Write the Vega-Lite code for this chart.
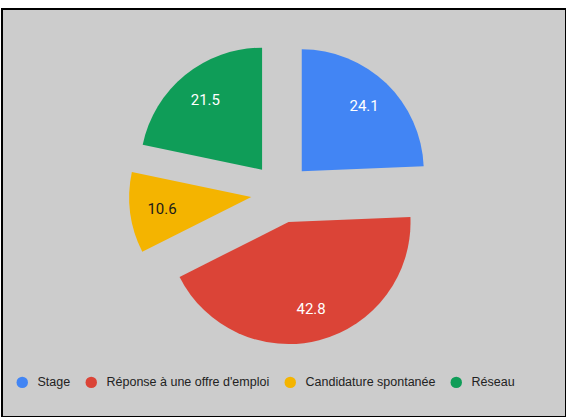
{
  "$schema": "https://vega.github.io/schema/vega-lite/v6.json",
  "width": 566,
  "height": 417,
  "autosize": {"type": "fit", "contains": "padding"},
  "padding": {"left": 2, "top": 9, "right": 0, "bottom": 0},
  "background": "white",
  "view": {"fill": "#cccccc", "stroke": "black", "strokeWidth": 2},
  "config": {
    "font": "Roboto"
  },
  "data": {
    "values": [
      {"cat": "Stage", "value": 24.1, "order": 1},
      {"cat": "Réponse à une offre d'emploi", "value": 42.8, "order": 2},
      {"cat": "Candidature spontanée", "value": 10.6, "order": 3},
      {"cat": "Réseau", "value": 21.5, "order": 4}
    ]
  },
  "encoding": {
    "theta": {"field": "value", "type": "quantitative", "stack": true},
    "order": {"field": "order", "type": "quantitative"}
  },
  "layer": [
    {
      "mark": {
        "type": "arc",
        "outerRadius": 122,
        "x": {"expr": "width/2-3"},
        "y": {"expr": "height/2-20"},
        "xOffset": {"expr": "30*sin(scale('theta',(datum.value_start+datum.value_end)/2))"},
        "yOffset": {"expr": "-30*cos(scale('theta',(datum.value_start+datum.value_end)/2))"}
      },
      "encoding": {
        "color": {
          "field": "cat",
          "type": "nominal",
          "sort": ["Stage", "Réponse à une offre d'emploi", "Candidature spontanée", "Réseau"],
          "scale": {
            "domain": ["Stage", "Réponse à une offre d'emploi", "Candidature spontanée", "Réseau"],
            "range": ["#4285F4", "#DB4437", "#F4B400", "#0F9D58"]
          },
          "legend": {
            "title": null,
            "orient": "none",
            "legendX": 14,
            "legendY": 367,
            "direction": "horizontal",
            "symbolType": "circle",
            "symbolSize": 130,
            "symbolStrokeWidth": 0,
            "labelFont": "Liberation Sans",
            "labelFontSize": 12.5,
            "labelColor": "#222222",
            "labelOffset": 9,
            "labelLimit": 400,
            "columnPadding": 14,
            "padding": 0
          }
        }
      }
    },
    {
      "mark": {
        "type": "text",
        "radius": 120,
        "x": {"expr": "width/2-3"},
        "y": {"expr": "height/2-20"},
        "font": "Roboto",
        "fontSize": 15
      },
      "encoding": {
        "text": {"field": "value", "type": "quantitative", "format": ".1f"},
        "detail": {"field": "cat", "type": "nominal"},
        "color": {
          "condition": {"test": "datum.cat === 'Candidature spontanée'", "value": "#1a1a1a"},
          "value": "#ffffff"
        }
      }
    }
  ]
}
